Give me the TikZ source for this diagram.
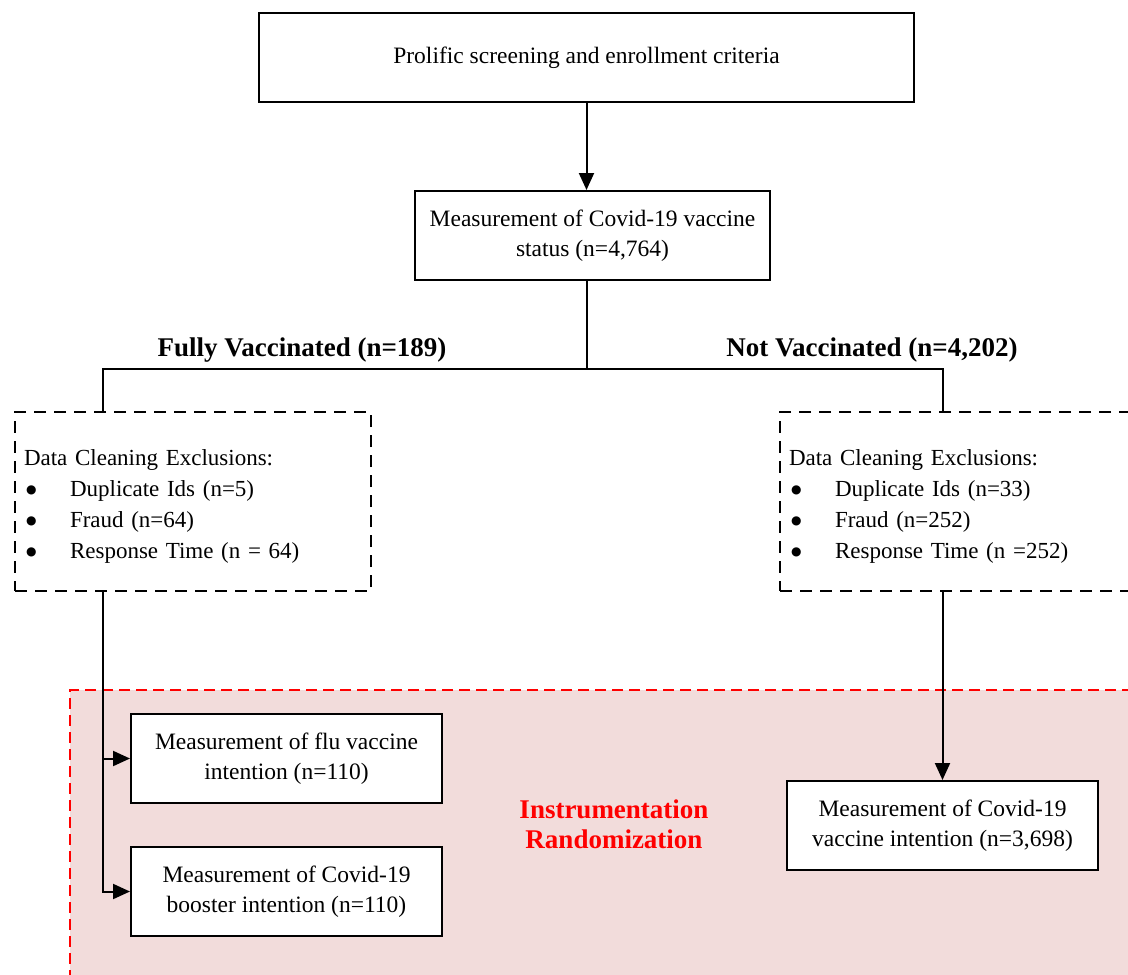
\documentclass[tikz,border=0pt]{standalone}
\usepackage{fontspec}
\setmainfont{Liberation Serif}
\newfontfamily\symfont{DejaVu Sans}
\usetikzlibrary{arrows.meta}
\definecolor{pinkbg}{HTML}{F2DCDB}
\definecolor{redline}{HTML}{FF0000}
\newcommand{\bul}{\hspace*{2pt}\makebox[44pt][l]{\raisebox{3.5pt}{\symfont\fontsize{12}{12}\selectfont ●}}}
\begin{document}
\begin{tikzpicture}[x=1pt,y=-1pt,
  box/.style={draw, line width=2pt, fill=white, minimum width=311, minimum height=89,
    align=center, inner sep=0pt, font=\fontsize{23.5}{30}\selectfont},
  dbox/.style={draw, line width=2pt, dash pattern=on 12pt off 8pt, fill=white,
    minimum width=356, minimum height=179, text width=338, align=left, inner sep=0pt,
    font=\fontsize{23}{31}\selectfont},
  lab/.style={font=\fontsize{27}{30}\selectfont\bfseries, inner sep=0pt},
  conn/.style={line width=2pt},
  arr/.style={line width=2pt, -{Triangle[length=17pt, width=15pt]}},
]
\clip (0,0) rectangle (1128,975);
\fill[white] (0,0) rectangle (1128,975);
% randomization region
\fill[pinkbg] (70,690) rectangle (1150,1000);
\draw[redline, line width=2pt, dash pattern=on 11pt off 6pt] (1150,690) -- (70,690) -- (70,1000);

\node[box, minimum width=655] (top) at (586.5,57.5) {Prolific screening and enrollment criteria};
\node[box, minimum width=355] (status) at (592.5,235.5) {Measurement of Covid-19 vaccine\\status (n=4,764)};

\node[dbox] (dl) at (193,501.5) {\rule{0pt}{26pt}Data Cleaning Exclusions:\\
\bul Duplicate Ids (n=5)\\
\bul Fraud (n=64)\\
\bul Response Time (n = 64)};
\node[dbox] (dr) at (958,501.5) {\rule{0pt}{26pt}Data Cleaning Exclusions:\\
\bul Duplicate Ids (n=33)\\
\bul Fraud (n=252)\\
\bul Response Time (n =252)};

\node[box] (flu) at (286.5,758.5) {Measurement of flu vaccine\\intention (n=110)};
\node[box] (boost) at (286.5,891.5) {Measurement of Covid-19\\booster intention (n=110)};
\node[box] (intent) at (942.5,825.5) {Measurement of Covid-19\\vaccine intention (n=3,698)};

\node[lab] (fv) at (302,350) {Fully Vaccinated (n=189)};
\node[lab] (nv) at (872,350) {Not Vaccinated (n=4,202)};
\node[lab, text=redline, align=center, font=\fontsize{27}{30}\selectfont\bfseries] (rand) at (614,824) {Instrumentation\\Randomization};

% connectors
\draw[arr] (586.5,101) coordinate (t1) -- (t1 |- status.north);
\draw[conn] (t1 |- status.south) -- ++(0,88) coordinate (split);
\draw[conn] (split) -| ([xshift=-90pt]dl.north);
\draw[conn] (split) -| ([xshift=-15pt]dr.north);
\draw[arr] ([xshift=-90pt]dl.south) |- (flu.west);
\draw[arr] ([xshift=-90pt]dl.south) |- (boost.west);
\draw[arr] (intent.north |- dr.south) -- (intent.north);
\end{tikzpicture}
\end{document}
